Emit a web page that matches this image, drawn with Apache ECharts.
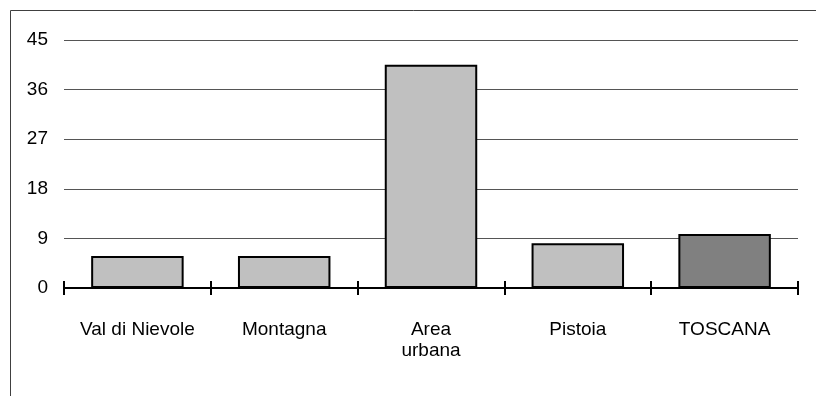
<!DOCTYPE html>
<html>
<head>
<meta charset="utf-8">
<script src="https://cdn.jsdelivr.net/npm/echarts@6/dist/echarts.min.js"></script>
<style>
  html, body { margin: 0; padding: 0; background: #fff; }
  #chart { width: 816px; height: 396px; }
</style>
</head>
<body>
<div id="chart"></div>
<script>
// Areas and their values
const categories = ['Val di Nievole', 'Montagna', 'Area\nurbana', 'Pistoia', 'TOSCANA'];
const values = [5.8, 5.8, 40.5, 8.1, 9.8];
const yTicks = [0, 9, 18, 27, 36, 45];

// The regional total is shown in a darker grey
const totalCategory = 'TOSCANA';
const FONT = '"Liberation Sans Narrow", "Arial Narrow", "Liberation Sans", Arial, sans-serif';

const chart = echarts.init(document.getElementById('chart'), null, { renderer: 'canvas' });

const axisBase = {
  type: 'category',
  data: categories,
  position: 'bottom',
  boundaryGap: true,
  axisLine: { show: true, lineStyle: { color: '#000', width: 2 } },
  splitLine: { show: false }
};

chart.setOption({
  animation: false,
  backgroundColor: '#fff',
  graphic: [{
    type: 'rect',
    shape: { x: 10.5, y: 10.5, width: 830, height: 420 },
    style: { fill: 'none', stroke: '#404040', lineWidth: 1 },
    silent: true
  }],
  grid: { left: 64, right: 18, top: 40, bottom: 108 },
  xAxis: [
    Object.assign({}, axisBase, {
      axisTick: { show: true, inside: false, length: 7, lineStyle: { color: '#000', width: 2 } },
      axisLabel: {
        show: true, interval: 0, margin: 31, color: '#000',
        fontFamily: FONT, fontSize: 19, lineHeight: 21
      }
    }),
    Object.assign({}, axisBase, {
      axisTick: { show: true, inside: true, length: 7, lineStyle: { color: '#000', width: 2 } },
      axisLabel: { show: false }
    })
  ],
  yAxis: {
    type: 'value',
    min: yTicks[0],
    max: yTicks[yTicks.length - 1],
    interval: yTicks[1] - yTicks[0],
    axisLine: { show: false },
    axisTick: { show: false },
    axisLabel: { color: '#000', fontFamily: FONT, fontSize: 19, margin: 16 },
    splitLine: { show: true, lineStyle: { color: '#555', width: 1 } }
  },
  series: [{
    type: 'bar',
    xAxisIndex: 0,
    barWidth: '63%',
    data: values.map((v, i) => ({
      value: v,
      itemStyle: {
        color: categories[i] === totalCategory ? '#808080' : '#c0c0c0',
        borderColor: '#000',
        borderWidth: 2
      }
    }))
  }]
});
</script>
</body>
</html>
